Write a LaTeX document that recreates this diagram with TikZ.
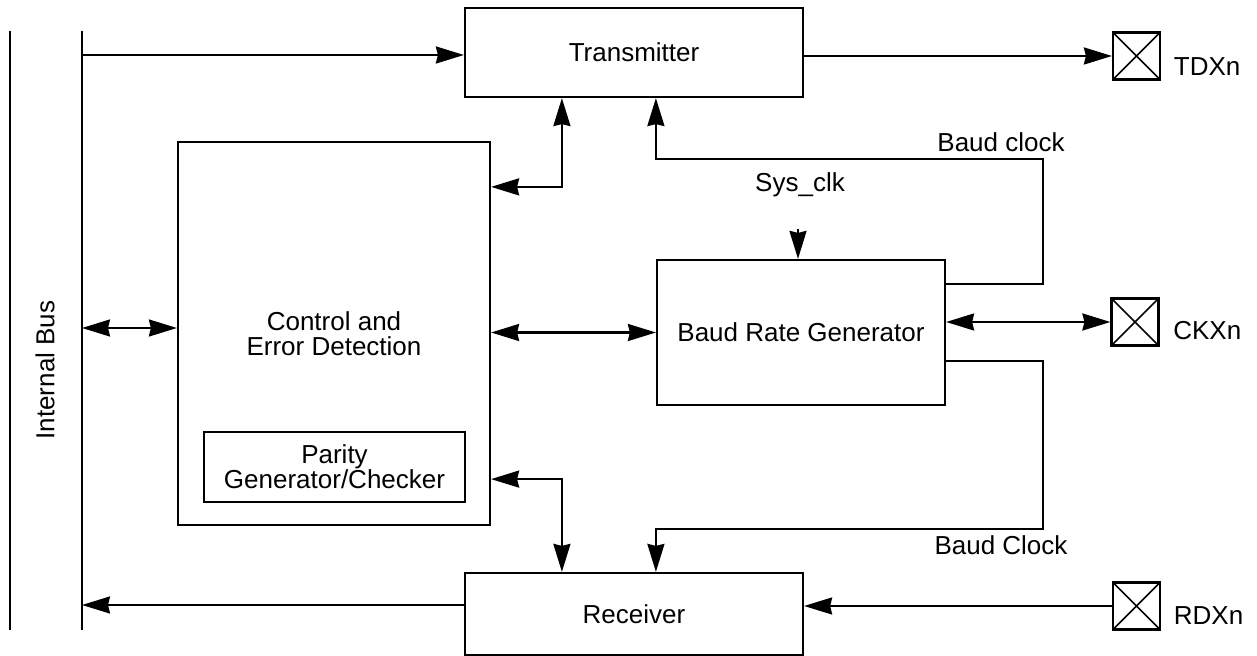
\documentclass[tikz,border=0pt]{standalone}
\usepackage{fontspec}
\setmainfont{Liberation Sans}
\usetikzlibrary{arrows.meta, positioning, calc}

\begin{document}
\begin{tikzpicture}[x=0.5pt, y=-0.5pt, line width=1.1pt,
    every node/.style={font=\fontsize{13}{12.5}\selectfont},
    block/.style={rectangle, draw, inner sep=0pt, align=center},
    pad/.style={rectangle, draw, minimum size=23.5pt, inner sep=0pt,
        path picture={\draw[line width=0.8pt] (path picture bounding box.north west) -- (path picture bounding box.south east)
            (path picture bounding box.south west) -- (path picture bounding box.north east);}},
    arr/.style={-{Stealth[length=14pt, width=8.5pt, inset=1pt]}},
    biarr/.style={{Stealth[length=14pt, width=8.5pt, inset=1pt]}-{Stealth[length=14pt, width=8.5pt, inset=1pt]}}]

    \useasboundingbox (0,0) rectangle (1257,656);

    % internal bus
    \draw (10,31) -- (10,630);
    \draw (82,31) -- (82,630);
    \node[rotate=90] (busname) at (45,370) {Internal Bus};
    \coordinate (busTx) at (82,55);
    \coordinate (busCtrl) at (82,328);
    \coordinate (busRx) at (82,605);

    % blocks
    \node[block, minimum width=169pt, minimum height=44.5pt] (tx) at (634,52.5) {Transmitter};
    \node[block, minimum width=156pt, minimum height=191.5pt] (ctrl) at (334,333.5) {Control and\\Error Detection};
    \node[block, minimum width=130.5pt, minimum height=35pt] (parity) at (334.5,467) {Parity\\Generator/Checker};
    \node[block, minimum width=144pt, minimum height=72.5pt] (brg) at (801,332.5) {Baud Rate Generator};
    \node[block, minimum width=169pt, minimum height=41pt] (rx) at (634,614) {Receiver};

    % pins
    \node[pad] (tdx) at (1136.5,56) {};
    \node[pad] (ckx) at (1135,322) {};
    \node[pad] (rdx) at (1136.5,606) {};
    \node[anchor=west] (tdxname) at ($(tdx.east)+(5,11)$) {TDXn};
    \node[anchor=west] (ckxname) at ($(ckx.east)+(6,9)$) {CKXn};
    \node[anchor=west] (rdxname) at ($(rdx.east)+(5,10)$) {RDXn};

    % clock labels
    \node (bclkup) at (1001,142) {Baud clock};
    \node (sysclk) at (800,185) {Sys\_clk};
    \node (bclkdn) at (1001,545) {Baud Clock};

    % connections
    \draw[arr] (busTx) -- (busTx -| tx.west);
    \draw[arr] (tdx.west -| tx.east) -- (tdx.west);
    \draw[biarr] ($(ctrl.north east)+(0,46)$) -| ($(tx.south west)+(98,0)$);
    \draw[arr] ($(brg.north east)+(0,25)$) -- ++(97,0) |- ($(tx.south west)+(192,61)$) -- ($(tx.south west)+(192,0)$);
    \draw[arr] ($(brg.north)+(-3,-30)$) -- ($(brg.north)+(-3,0)$);
    \draw[biarr] (busCtrl) -- (busCtrl -| ctrl.west);
    \draw[biarr] (brg.west -| ctrl.east) -- (brg.west);
    \draw[biarr] (ckx.west -| brg.east) -- (ckx.west);
    \draw[arr] ($(brg.south east)+(0,-45)$) -- ++(97,0) |- ($(rx.north west)+(192,-43)$) -- ($(rx.north west)+(192,0)$);
    \draw[biarr] ($(ctrl.south east)+(0,-47)$) -| ($(rx.north west)+(98,0)$);
    \draw[arr] (busRx -| rx.west) -- (busRx);
    \draw[arr] (rdx.west) -- (rdx.west -| rx.east);
\end{tikzpicture}
\end{document}
